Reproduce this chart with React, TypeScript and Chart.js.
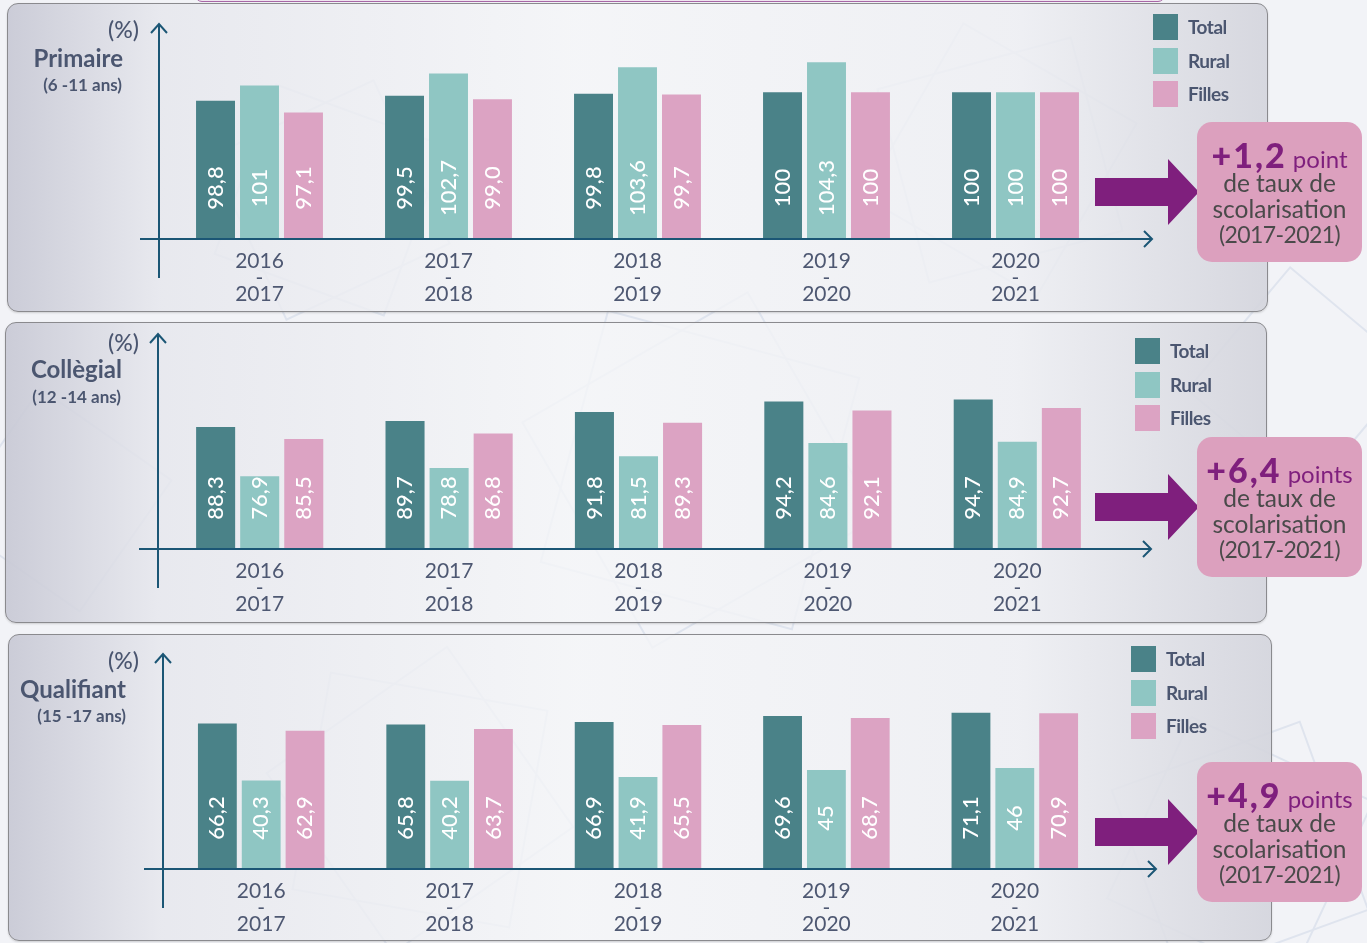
import React, { useEffect, useRef } from 'react';
import { Chart, registerables } from 'chart.js';

Chart.register(...registerables);

// ---------- DATA ----------
const categories = [
  ['2016', '-', '2017'],
  ['2017', '-', '2018'],
  ['2018', '-', '2019'],
  ['2019', '-', '2020'],
  ['2020', '-', '2021'],
];
const seriesNames = ['Total', 'Rural', 'Filles'];
const seriesColors = ['#4a8288', '#8fc6c3', '#dca3c3'];

const primaireTotal = ['98,8', '99,5', '99,8', '100', '100'];
const primaireRural = ['101', '102,7', '103,6', '104,3', '100'];
const primaireFilles = ['97,1', '99,0', '99,7', '100', '100'];

const collegialTotal = ['88,3', '89,7', '91,8', '94,2', '94,7'];
const collegialRural = ['76,9', '78,8', '81,5', '84,6', '84,9'];
const collegialFilles = ['85,5', '86,8', '89,3', '92,1', '92,7'];

const qualifiantTotal = ['66,2', '65,8', '66,9', '69,6', '71,1'];
const qualifiantRural = ['40,3', '40,2', '41,9', '45', '46'];
const qualifiantFilles = ['62,9', '63,7', '65,5', '68,7', '70,9'];

const gains = ['+1,2', '+6,4', '+4,9'];
const gainUnits = ['point', 'points', 'points'];
const titles = ['Primaire', 'Collègial', 'Qualifiant'];
const subtitles = ['(6 -11 ans)', '(12 -14 ans)', '(15 -17 ans)'];
const calloutLines = ['de taux de', 'scolarisation', '(2017-2021)'];

const toNum = (s: string) => parseFloat(s.replace(',', '.'));

// ---------- LAYOUT ----------
const FONT = 'Lato, "Open Sans", sans-serif';
const TEXT = '#4b5670';
const AXIS = '#1b5675';
const PURPLE = '#7f1f7d';

const panels = [
  {
    series: [primaireTotal, primaireRural, primaireFilles],
    yMin: 79, yMax: 107.5,
    box: { l: 7, t: 3, r: 1268, b: 312 },
    chartL: 165, chartR: 1110, chartT: 40, base: 239, axisX: 159,
    legendX: 1153, legendY: 14,
    pct: { r: 139, cy: 30 }, title: { r: 123, cy: 58 }, sub: { r: 122, cy: 85 },
    callT: 122, arrowY: 192,
  },
  {
    series: [collegialTotal, collegialRural, collegialFilles],
    yMin: 60, yMax: 105,
    box: { l: 5, t: 322, r: 1267, b: 623 },
    chartL: 165, chartR: 1112, chartT: 355, base: 549, axisX: 158,
    legendX: 1135, legendY: 338,
    pct: { r: 139, cy: 343 }, title: { r: 122, cy: 369 }, sub: { r: 121, cy: 397 },
    callT: 437, arrowY: 507,
  },
  {
    series: [qualifiantTotal, qualifiantRural, qualifiantFilles],
    yMin: 0, yMax: 86,
    box: { l: 8, t: 634, r: 1272, b: 941 },
    chartL: 167, chartR: 1109, chartT: 680, base: 869, axisX: 163,
    legendX: 1131, legendY: 646,
    pct: { r: 139, cy: 661 }, title: { r: 126, cy: 689 }, sub: { r: 126, cy: 716 },
    callT: 762, arrowY: 832,
  },
];

type Panel = typeof panels[number];

function PanelChart({ p }: { p: Panel }) {
  const ref = useRef<HTMLCanvasElement>(null);
  const top = p.box.t;
  const H = p.box.b - p.box.t;
  useEffect(() => {
    if (!ref.current) return;
    const axesPlugin = {
      id: 'axesArrows',
      afterDatasetsDraw(chart: any) {
        const ctx = chart.ctx;
        const b = chart.chartArea.bottom;
        const ax = p.axisX;
        ctx.save();
        ctx.strokeStyle = AXIS;
        ctx.lineWidth = 2;
        ctx.beginPath();
        ctx.moveTo(ax, b + 39);
        ctx.lineTo(ax, b - 215);
        ctx.moveTo(ax - 8, b - 206);
        ctx.lineTo(ax, b - 215);
        ctx.lineTo(ax + 8, b - 206);
        ctx.moveTo(ax - 19, b);
        ctx.lineTo(ax + 993, b);
        ctx.moveTo(ax + 985, b - 8);
        ctx.lineTo(ax + 993, b);
        ctx.lineTo(ax + 985, b + 8);
        ctx.stroke();
        ctx.restore();
      },
    };
    const labelsPlugin = {
      id: 'barLabels',
      afterDatasetsDraw(chart: any) {
        const ctx = chart.ctx;
        const b = chart.chartArea.bottom;
        ctx.save();
        ctx.fillStyle = '#ffffff';
        ctx.font = `500 22px ${FONT}`;
        ctx.textAlign = 'center';
        ctx.textBaseline = 'middle';
        chart.data.datasets.forEach((ds: any, i: number) => {
          const meta = chart.getDatasetMeta(i);
          meta.data.forEach((bar: any, j: number) => {
            ctx.save();
            ctx.translate(bar.x, b - 51);
            ctx.rotate(-Math.PI / 2);
            ctx.fillText(ds.raw[j], 0, 0);
            ctx.restore();
          });
        });
        ctx.restore();
      },
    };
    const chart = new Chart(ref.current, {
      type: 'bar',
      data: {
        labels: categories as any,
        datasets: p.series.map((s, i) => ({
          label: seriesNames[i],
          data: s.map(toNum),
          raw: s,
          backgroundColor: seriesColors[i],
          borderWidth: 0,
          categoryPercentage: 0.698,
          barPercentage: 0.886,
        })) as any,
      },
      options: {
        responsive: false,
        animation: false,
        events: [],
        layout: {
          padding: {
            left: p.chartL,
            right: 1367 - p.chartR,
            top: p.chartT - top,
            bottom: H - (p.base - top) - 70,
          },
        },
        plugins: { legend: { display: false }, tooltip: { enabled: false } },
        scales: {
          x: {
            grid: { display: false, drawTicks: false },
            border: { display: false },
            ticks: {
              color: '#4e5872',
              font: { family: FONT, size: 21, lineHeight: 0.79 },
              padding: 14,
              maxRotation: 0,
              autoSkip: false,
            },
            afterFit: (s: any) => { s.height = 70; },
          },
          y: { display: false, min: p.yMin, max: p.yMax },
        },
      },
      plugins: [axesPlugin, labelsPlugin],
    });
    return () => chart.destroy();
  }, []);
  return (
    <canvas
      ref={ref}
      width={1367}
      height={H}
      style={{ position: 'absolute', left: 0, top, width: 1367, height: H }}
    />
  );
}

function RightText({ r, cy, size, weight, text }: any) {
  const lh = size * 1.3;
  return (
    <div
      style={{
        position: 'absolute', right: 1367 - r, top: cy - lh / 2, lineHeight: `${lh}px`,
        fontSize: size, fontWeight: weight, color: TEXT, whiteSpace: 'nowrap', fontFamily: FONT,
      }}
    >
      {text}
    </div>
  );
}

function Decor({ p, idx }: { p: Panel; idx: number }) {
  const lt = p.legendY;
  return (
    <>
      <RightText r={p.pct.r} cy={p.pct.cy} size={23} weight={500} text="(%)" />
      <RightText r={p.title.r} cy={p.title.cy} size={24} weight={700} text={titles[idx]} />
      <RightText r={p.sub.r} cy={p.sub.cy} size={17} weight={700} text={subtitles[idx]} />
      {seriesNames.map((n, i) => (
        <React.Fragment key={n}>
          <div style={{ position: 'absolute', left: p.legendX, top: lt + i * 33.5, width: 25, height: 26, background: seriesColors[i] }} />
          <div style={{ position: 'absolute', left: p.legendX + 35, top: lt + i * 33.5, height: 26, lineHeight: '26px', fontSize: 19, fontWeight: 700, color: TEXT, fontFamily: FONT, letterSpacing: -0.5 }}>{n}</div>
        </React.Fragment>
      ))}
      <svg style={{ position: 'absolute', left: 0, top: 0, overflow: 'visible' }} width={1} height={1}>
        <polygon
          fill={PURPLE}
          points={`1095,${p.arrowY - 14} 1168,${p.arrowY - 14} 1168,${p.arrowY - 33} 1199,${p.arrowY} 1168,${p.arrowY + 33} 1168,${p.arrowY + 14} 1095,${p.arrowY + 14}`}
        />
      </svg>
      <div style={{ position: 'absolute', left: 1197, top: p.callT, width: 165, height: 140, borderRadius: 15, background: '#dca0be', fontFamily: FONT }}>
        <div style={{ position: 'absolute', left: -10, right: -10, top: 33 - 20, height: 40, lineHeight: '40px', textAlign: 'center', color: PURPLE, whiteSpace: 'nowrap' }}>
          <span style={{ fontSize: 34, fontWeight: 900, letterSpacing: 2 }}>{gains[idx]}</span>
          <span style={{ fontSize: 24, fontWeight: 400 }}> {gainUnits[idx]}</span>
        </div>
        {calloutLines.map((t, i) => (
          <div key={t} style={{ position: 'absolute', left: -10, right: -10, top: 61 + i * 25.5 - 14, height: 28, lineHeight: '28px', textAlign: 'center', color: '#4a4a4a', fontSize: i === 2 ? 23 : 24.5, letterSpacing: i === 2 ? -0.6 : 0, whiteSpace: 'nowrap' }}>{t}</div>
        ))}
      </div>
    </>
  );
}

function Pattern() {
  const shapes = [
    { x: 330, y: 200, s: 180, r: 20 }, { x: 330, y: 200, s: 180, r: 65 },
    { x: 700, y: 470, s: 260, r: 15 }, { x: 700, y: 470, s: 260, r: 60 },
    { x: 1000, y: 160, s: 200, r: 30 }, { x: 1000, y: 160, s: 200, r: 75 },
    { x: 420, y: 800, s: 220, r: 10 }, { x: 420, y: 800, s: 220, r: 55 },
    { x: 1240, y: 850, s: 200, r: 25 }, { x: 1240, y: 850, s: 200, r: 70 },
    { x: 60, y: 500, s: 160, r: 35 }, { x: 1300, y: 380, s: 160, r: 40 },
  ];
  return (
    <svg style={{ position: 'absolute', left: 0, top: 0 }} width={1367} height={943}>
      {shapes.map((s, i) => (
        <rect key={i} x={s.x - s.s / 2} y={s.y - s.s / 2} width={s.s} height={s.s}
          transform={`rotate(${s.r} ${s.x} ${s.y})`} fill="none" stroke="#dfe4ee" strokeWidth={2} />
      ))}
    </svg>
  );
}

export default function App() {
  return (
    <div style={{ position: 'absolute', left: 0, top: 0, width: 1367, height: 943, overflow: 'hidden', background: '#f2f3f7', fontFamily: FONT }}>
      <Pattern />
      <div style={{ position: 'absolute', left: 195, top: -12, width: 970, height: 14, border: '1.5px solid #a766a6', borderRadius: 8, background: '#efe6ef', boxSizing: 'border-box' }} />
      {panels.map((p, i) => (
        <div key={'b' + i} style={{
          position: 'absolute', left: p.box.l, top: p.box.t, width: p.box.r - p.box.l, height: p.box.b - p.box.t,
          boxSizing: 'border-box', border: '1.5px solid #8a8a8e', borderRadius: 11,
          background: 'linear-gradient(to right, rgba(200,201,213,0.92) 0%, rgba(230,231,237,0.85) 12%, rgba(245,246,248,0.8) 45%, rgba(238,239,243,0.85) 80%, rgba(212,213,221,0.92) 100%)',
          boxShadow: '0 1px 2px rgba(0,0,0,0.15)',
        }} />
      ))}
      {panels.map((p, i) => <PanelChart key={'c' + i} p={p} />)}
      {panels.map((p, i) => <Decor key={'d' + i} p={p} idx={i} />)}
    </div>
  );
}
